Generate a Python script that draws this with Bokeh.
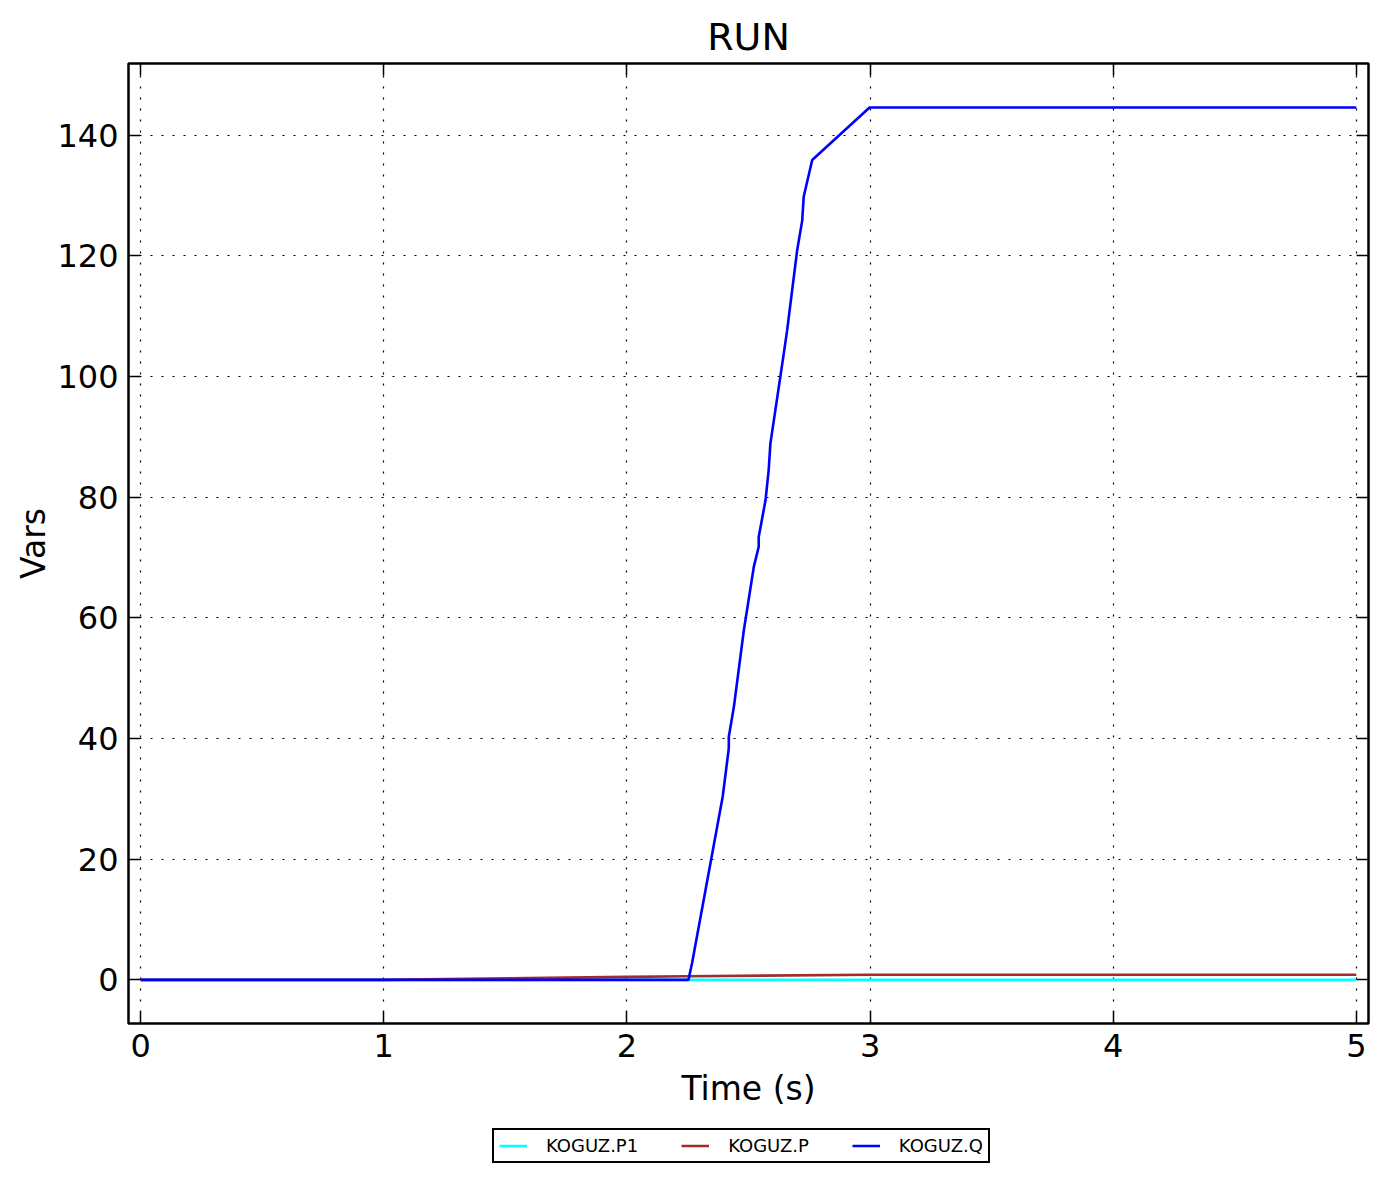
from bokeh.plotting import figure
from bokeh.layouts import column
from bokeh.models import (Range1d, FixedTicker, LinearAxis, Legend, LegendItem,
                          CustomJSTickFormatter)
from bokeh.embed import file_html
from bokeh.resources import INLINE

# ---- data ----
t_p1 = [0.0, 5.0]
v_p1 = [0.0, 0.0]

t_p = [0.0, 1.0, 2.0, 2.25, 3.0, 5.0]
v_p = [0.0, 0.0, 0.5, 0.6, 0.85, 0.85]

t_q = [0.0, 2.253, 2.268, 2.394, 2.419, 2.419, 2.440, 2.481, 2.522, 2.542, 2.542,
       2.570, 2.583, 2.590, 2.645, 2.659, 2.700, 2.721, 2.727, 2.762, 2.998, 5.0]
v_q = [0.0, 0.0, 2.8, 30.4, 38.4, 40.3, 45.3, 58.0, 68.5, 71.8, 73.4,
       79.5, 84.5, 88.9, 103.8, 107.7, 120.9, 125.9, 129.8, 135.9, 144.6, 144.6]

x_ticks = [0, 1, 2, 3, 4, 5]
y_ticks = [0, 20, 40, 60, 80, 100, 120, 140]
series_names = ["KOGUZ.P1", "KOGUZ.P", "KOGUZ.Q"]
series_colors = ["#00FFFF", "#A52A2A", "#0000FF"]
series_t = [t_p1, t_p, t_q]
series_v = [v_p1, v_p, v_q]

FONT = "DejaVu Sans"

p = figure(frame_width=1240, frame_height=960,
           min_border_left=128, min_border_right=17, min_border_top=63,
           min_border_bottom=105,
           x_range=Range1d(-0.05, 5.05), y_range=Range1d(-7.23, 151.9),
           output_backend="svg", toolbar_location=None, title="RUN",
           x_axis_label="Time (s)", y_axis_label="Vars")

p.title.align = "center"
p.title.text_font = FONT
p.title.text_font_size = "38px"
p.title.text_font_style = "normal"
p.title.text_color = "black"
p.title.standoff = 9

p.background_fill_color = "white"
p.border_fill_color = "white"
p.outline_line_color = "black"
p.outline_line_width = 2.5

for ax in p.xaxis + p.yaxis:
    ax.axis_line_color = None
    ax.major_tick_in = 12
    ax.major_tick_out = 0
    ax.major_tick_line_color = "black"
    ax.major_tick_line_width = 1.5
    ax.minor_tick_line_color = None
    ax.major_label_text_font = FONT
    ax.major_label_text_font_size = "32px"
    ax.major_label_text_color = "black"
    ax.axis_label_text_font = FONT
    ax.axis_label_text_font_size = "33px"
    ax.axis_label_text_font_style = "normal"
    ax.axis_label_text_color = "black"

p.xaxis.ticker = FixedTicker(ticks=x_ticks)
p.yaxis.ticker = FixedTicker(ticks=y_ticks)
p.xaxis.major_label_standoff = 10
p.yaxis.major_label_standoff = 10
p.xaxis.axis_label_standoff = 9
p.yaxis.axis_label_standoff = 1

# mirrored ticks on top and right
blank = CustomJSTickFormatter(code="return ''")
top = LinearAxis(ticker=FixedTicker(ticks=x_ticks), formatter=blank)
right = LinearAxis(ticker=FixedTicker(ticks=y_ticks), formatter=blank)
for ax in (top, right):
    ax.axis_line_color = None
    ax.major_tick_in = 12
    ax.major_tick_out = 0
    ax.major_tick_line_color = "black"
    ax.major_tick_line_width = 1.5
    ax.minor_tick_line_color = None
    ax.major_label_text_font_size = "1px"
    ax.major_label_standoff = 0
p.add_layout(top, "above")
p.add_layout(right, "right")

for g in (p.xgrid[0], p.ygrid[0]):
    g.grid_line_color = "black"
    g.grid_line_dash = "2 9"
    g.grid_line_width = 1.2
p.xgrid.ticker = FixedTicker(ticks=x_ticks)
p.ygrid.ticker = FixedTicker(ticks=y_ticks)

for t, v, c in zip(series_t, series_v, series_colors):
    p.line(t, v, line_color=c, line_width=2.6)

# ---- legend strip below the plot ----
leg_fig = figure(width=1385, height=50, min_border=0,
                 x_range=Range1d(-0.05, 5.05), y_range=Range1d(1000, 1001),
                 x_axis_location=None, y_axis_location=None,
                 output_backend="svg", toolbar_location=None)
leg_fig.outline_line_color = None
leg_fig.grid.visible = False
leg_fig.background_fill_color = "white"
leg_fig.border_fill_color = "white"

items = []
for t, v, c, name in zip(series_t, series_v, series_colors, series_names):
    r = leg_fig.line(t, v, line_color=c, line_width=2.5)
    items.append(LegendItem(label=name, renderers=[r]))

legend = Legend(items=items, orientation="horizontal", location=(364, 15))
legend.label_text_font = FONT
legend.label_text_font_size = "18px"
legend.label_text_color = "black"
legend.label_standoff = 19
legend.glyph_width = 28
legend.glyph_height = 19
legend.label_height = 19
legend.spacing = 43
legend.padding = 5
legend.margin = 0
legend.border_line_color = "black"
legend.border_line_alpha = 1.0
legend.border_line_width = 2
legend.background_fill_color = "white"
legend.background_fill_alpha = 1.0
leg_fig.add_layout(legend, "center")

layout = column(p, leg_fig, spacing=0)
open("out.html", "w").write(file_html(layout, INLINE))
